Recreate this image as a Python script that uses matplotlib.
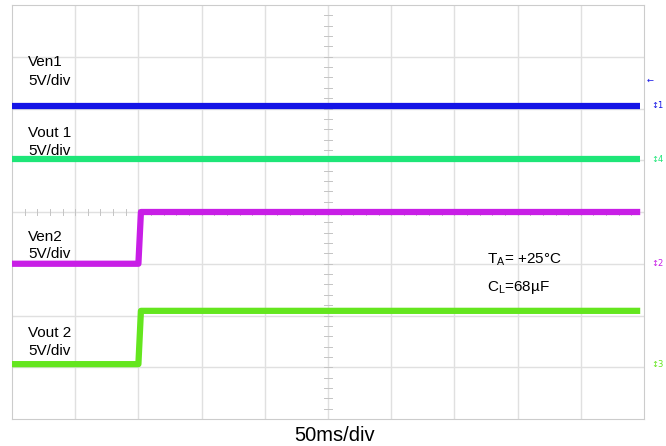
import matplotlib.pyplot as plt
import numpy as np

plt.rcParams['font.family'] = ['Liberation Sans', 'DejaVu Sans']

# Time axis in ms (50 ms/div, 10 divisions)
time_ms = [0, 100, 102, 497]

# Trace levels in screen divisions (5 V/div)
ven1 = [6.05, 6.05, 6.05, 6.05]
vout1 = [5.02, 5.02, 5.02, 5.02]
ven2 = [3.0, 3.0, 4.0, 4.0]
vout2 = [1.06, 1.06, 2.09, 2.09]

trace_names = ["Ven1", "Vout 1", "Ven2", "Vout 2"]
trace_colors = ["#1414e6", "#1ee678", "#c81ee6", "#64e61e"]
marker_labels = ["1", "4", "2", "3"]

fig = plt.figure(figsize=(6.66, 4.46), dpi=100)
ax = fig.add_axes([12 / 666, 27 / 446, 632 / 666, 414 / 446])
ax.set_xlim(0, 500)
ax.set_ylim(0, 8)

# Scope graticule
for gx in np.arange(50, 500, 50):
    ax.axvline(gx, color="#e0e0e0", lw=1, zorder=0)
for gy in range(1, 8):
    ax.axhline(gy, color="#e0e0e0", lw=1, zorder=0)
for t in np.arange(0, 8.01, 0.2):
    ax.plot([247, 253], [t, t], color="#c4c4c4", lw=0.7, zorder=0)
for t in np.arange(0, 500.1, 10):
    ax.plot([t, t], [3.95, 4.05], color="#c4c4c4", lw=0.7, zorder=0)
for s in ax.spines.values():
    s.set_color("#cccccc")
ax.set_xticks([])
ax.set_yticks([])

# Traces
for ys, c in zip([ven1, vout1, ven2, vout2], trace_colors):
    ax.plot(time_ms, ys, color=c, lw=4.5, solid_capstyle="butt", zorder=3)

# Channel labels
label_pos = [(6.82, 6.45), (5.45, 5.10), (3.44, 3.11), (1.58, 1.24)]
for name, (y1, y2) in zip(trace_names, label_pos):
    ax.text(13, y1, name, fontsize=11, va="baseline", ha="left", zorder=4)
    ax.text(13, y2, "5V/div", fontsize=11, va="baseline", ha="left", zorder=4)

ax.text(376, 3.01, r"T$_\mathregular{A}$= +25°C", fontsize=11, va="baseline")
ax.text(376, 2.47, r"C$_\mathregular{L}$=68µF", fontsize=11, va="baseline")

# Channel markers on the right edge
fig.text(647 / 666, 1 - 80 / 446, "←", color=trace_colors[0], fontsize=6,
         va="center", family="DejaVu Sans")
for lvl, c, m in zip([ven1[0], vout1[0], ven2[0], vout2[0]], trace_colors, marker_labels):
    ax.text(1.012, lvl / 8, "↕" + m, color=c, fontsize=6, va="center",
            transform=ax.transAxes, family="DejaVu Sans", clip_on=False)

fig.text(335 / 666, 5 / 446, "50ms/div", fontsize=14.5, ha="center", va="baseline")

fig.savefig("out.png", dpi=100)
